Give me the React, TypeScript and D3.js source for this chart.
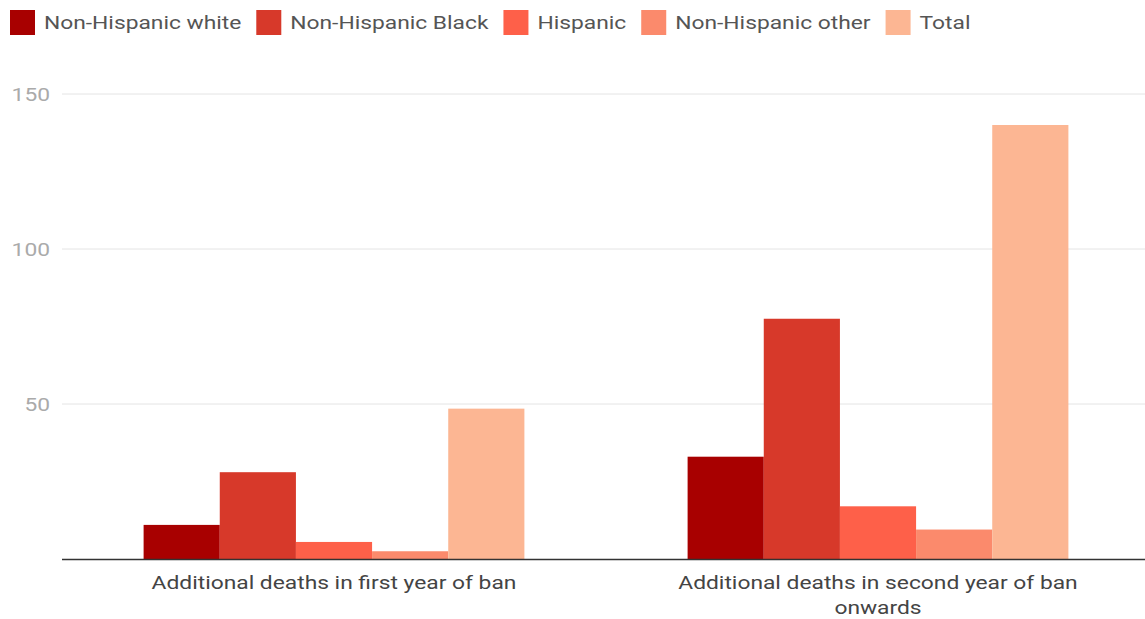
import React, { useRef, useEffect } from "react";
import * as d3 from "d3";

const categories = [
  "Additional deaths in first year of ban",
  "Additional deaths in second year of ban onwards",
];
const seriesNames = [
  "Non-Hispanic white",
  "Non-Hispanic Black",
  "Hispanic",
  "Non-Hispanic other",
  "Total",
];
const seriesColors = ["#a80000", "#d7392a", "#fe6049", "#fb8a6c", "#fcb693"];
const firstYear = [11, 28, 5.5, 2.5, 48.5];
const secondYear = [33, 77.5, 17, 9.5, 140];
const yTicks = [50, 100, 150];

const W = 1145;
const H = 619;
// the source image is stretched horizontally, so text is widened too
const SX = 1.2;

export default function App() {
  const svgRef = useRef<SVGSVGElement>(null);

  useEffect(() => {
    const svg = d3.select(svgRef.current);
    svg.selectAll("*").remove();

    const font = "Roboto, 'Open Sans', sans-serif";
    const values = [firstYear, secondYear];

    const x0 = d3.scaleBand().domain(categories).range([62, 1150]).paddingInner(0.3).paddingOuter(0.15);
    const x1 = d3.scaleBand().domain(seriesNames).range([0, x0.bandwidth()]);
    const y = d3.scaleLinear().domain([0, 150]).range([559, 94]);

    // gridlines + y labels
    const grid = svg.append("g");
    grid.selectAll("line")
      .data(yTicks)
      .join("line")
      .attr("x1", 62)
      .attr("x2", W)
      .attr("y1", (d) => y(d))
      .attr("y2", (d) => y(d))
      .attr("stroke", "#e4e4e4")
      .attr("stroke-width", 1);
    grid.selectAll("text")
      .data(yTicks)
      .join("text")
      .attr("transform", (d) => `translate(50,${y(d)}) scale(${SX},1)`)
      .attr("dy", "0.35em")
      .attr("text-anchor", "end")
      .attr("font-family", font)
      .attr("font-size", 19)
      .attr("fill", "#aaaaaa")
      .text((d) => d);

    // bars
    const groups = svg.append("g")
      .selectAll("g")
      .data(categories)
      .join("g")
      .attr("transform", (d) => `translate(${x0(d)},0)`);
    groups.selectAll("rect")
      .data((d, i) => values[i].map((v, j) => ({ name: seriesNames[j], v, c: seriesColors[j] })))
      .join("rect")
      .attr("x", (d) => x1(d.name)!)
      .attr("width", x1.bandwidth())
      .attr("y", (d) => y(d.v))
      .attr("height", (d) => y(0) - y(d.v))
      .attr("fill", (d) => d.c);

    // baseline
    svg.append("line")
      .attr("x1", 62)
      .attr("x2", W)
      .attr("y1", y(0) + 0.5)
      .attr("y2", y(0) + 0.5)
      .attr("stroke", "#333")
      .attr("stroke-width", 1.5);

    // category labels (wrapped)
    const maxWidth = 420;
    const labels = svg.append("g")
      .selectAll("text")
      .data(categories)
      .join("text")
      .attr("transform", (d) => `translate(${x0(d)! + x0.bandwidth() / 2},589) scale(${SX},1)`)
      .attr("text-anchor", "middle")
      .attr("font-family", font)
      .attr("font-size", 19)
      .attr("fill", "#444");
    labels.each(function (d) {
      const t = d3.select(this);
      const words = d.split(" ");
      let line: string[] = [];
      let tspan = t.append("tspan").attr("x", 0).attr("dy", 0);
      for (const w of words) {
        line.push(w);
        tspan.text(line.join(" "));
        if ((tspan.node() as SVGTSpanElement).getComputedTextLength() * SX > maxWidth && line.length > 1) {
          line.pop();
          tspan.text(line.join(" "));
          line = [w];
          tspan = t.append("tspan").attr("x", 0).attr("dy", "1.3em").text(w);
        }
      }
    });

    // legend
    const legend = svg.append("g").attr("transform", "translate(10,10)");
    let lx = 0;
    seriesNames.forEach((name, i) => {
      const item = legend.append("g").attr("transform", `translate(${lx},0)`);
      item.append("rect").attr("width", 25).attr("height", 25).attr("fill", seriesColors[i]);
      const txt = item.append("text")
        .attr("transform", `translate(34,12) scale(${SX},1)`)
        .attr("dy", "0.35em")
        .attr("font-family", font)
        .attr("font-size", 19)
        .attr("fill", "#555")
        .text(name);
      const tw = (txt.node() as SVGTextElement).getComputedTextLength() * SX;
      lx += 34 + tw + 15;
    });
  }, []);

  return (
    <svg
      ref={svgRef}
      width={W}
      height={H}
      style={{ position: "absolute", left: 0, top: 0, background: "#fff" }}
    />
  );
}
